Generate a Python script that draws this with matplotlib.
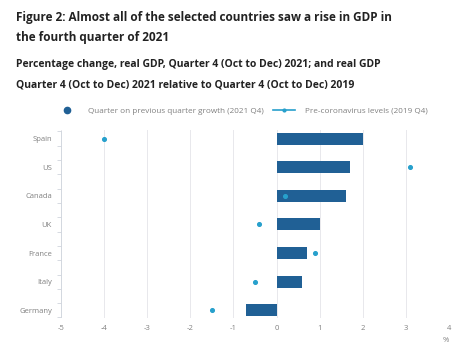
import matplotlib
matplotlib.use("Agg")
import matplotlib.pyplot as plt
from matplotlib.lines import Line2D
import numpy as np

plt.rcParams['font.family'] = ['Open Sans', 'DejaVu Sans']

countries = ["Spain", "US", "Canada", "UK", "France", "Italy", "Germany"]
qoq_growth = [2.0, 1.7, 1.6, 1.0, 0.7, 0.6, -0.7]
pre_covid = [-4.0, 3.1, 0.2, -0.4, 0.9, -0.5, -1.5]
x_ticks = [-5, -4, -3, -2, -1, 0, 1, 2, 3, 4]

bar_color = "#206095"
dot_color = "#27a0cc"
text_dark = "#222222"
grey = "#808080"

fig = plt.figure(figsize=(4.65, 3.53), dpi=100)
fig.patch.set_facecolor("white")
W, H = 465, 353
ax = fig.add_axes([61 / W, 1 - 318 / H, (449 - 61) / W, (318 - 130) / H])

y = np.arange(len(countries))
ax.barh(y, qoq_growth, height=0.42, color=bar_color, zorder=3)
ax.scatter(pre_covid, y, s=7, color=dot_color, zorder=4)

ax.set_xlim(-5, 4)
ax.set_ylim(len(countries) - 1 + 0.27, -0.3)
ax.set_xticks(x_ticks)
ax.set_xticklabels([str(t) for t in x_ticks], fontsize=5.5, color=grey)
ax.set_yticks(y)
ax.set_yticklabels(countries, fontsize=5.5, color=grey)
ax.set_yticks(np.arange(-0.25, len(countries) - 0.5, 0.5), minor=True)
ax.tick_params(axis='y', which='major', length=0, pad=6.5)
ax.tick_params(axis='y', which='minor', length=3, color="#d0d5dd", width=0.6)
ax.tick_params(axis='x', length=0, pad=5)
ax.grid(axis='x', color="#e8e8ec", linewidth=0.7, zorder=0)
for s in ["top", "right", "bottom"]:
    ax.spines[s].set_visible(False)
ax.spines["left"].set_color("#d0d5dd")
ax.spines["left"].set_linewidth(0.6)
ax.spines["left"].set_bounds(-0.25, len(countries) - 0.75)

fig.text(16 / W, 1 - 18 / H, "Figure 2: Almost all of the selected countries saw a rise in GDP in",
         fontsize=8.45, fontweight='bold', color=text_dark, va='center')
fig.text(16 / W, 1 - 38 / H, "the fourth quarter of 2021",
         fontsize=8.45, fontweight='bold', color=text_dark, va='center')
fig.text(16 / W, 1 - 64 / H, "Percentage change, real GDP, Quarter 4 (Oct to Dec) 2021; and real GDP",
         fontsize=7.45, fontweight='bold', color=text_dark, va='center')
fig.text(16 / W, 1 - 85 / H, "Quarter 4 (Oct to Dec) 2021 relative to Quarter 4 (Oct to Dec) 2019",
         fontsize=7.45, fontweight='bold', color=text_dark, va='center')

handles = [
    Line2D([], [], marker='o', linestyle='none', color=bar_color, markersize=4.5),
    Line2D([], [], marker='o', linestyle='-', color=dot_color, markersize=2, linewidth=1.2),
]
fig.legend(handles, ["Quarter on previous quarter growth (2021 Q4)", "Pre-coronavirus levels (2019 Q4)"],
           loc='center', bbox_to_anchor=(242 / W, 1 - 111 / H), ncol=2, frameon=False,
           fontsize=5.9, labelcolor=grey, handlelength=2.6, columnspacing=1.2, handletextpad=1.2)

fig.text(446 / W, 1 - 341 / H, "%", fontsize=5.5, color=grey, ha='center', va='center')

fig.savefig("out.png", dpi=100, facecolor="white")
